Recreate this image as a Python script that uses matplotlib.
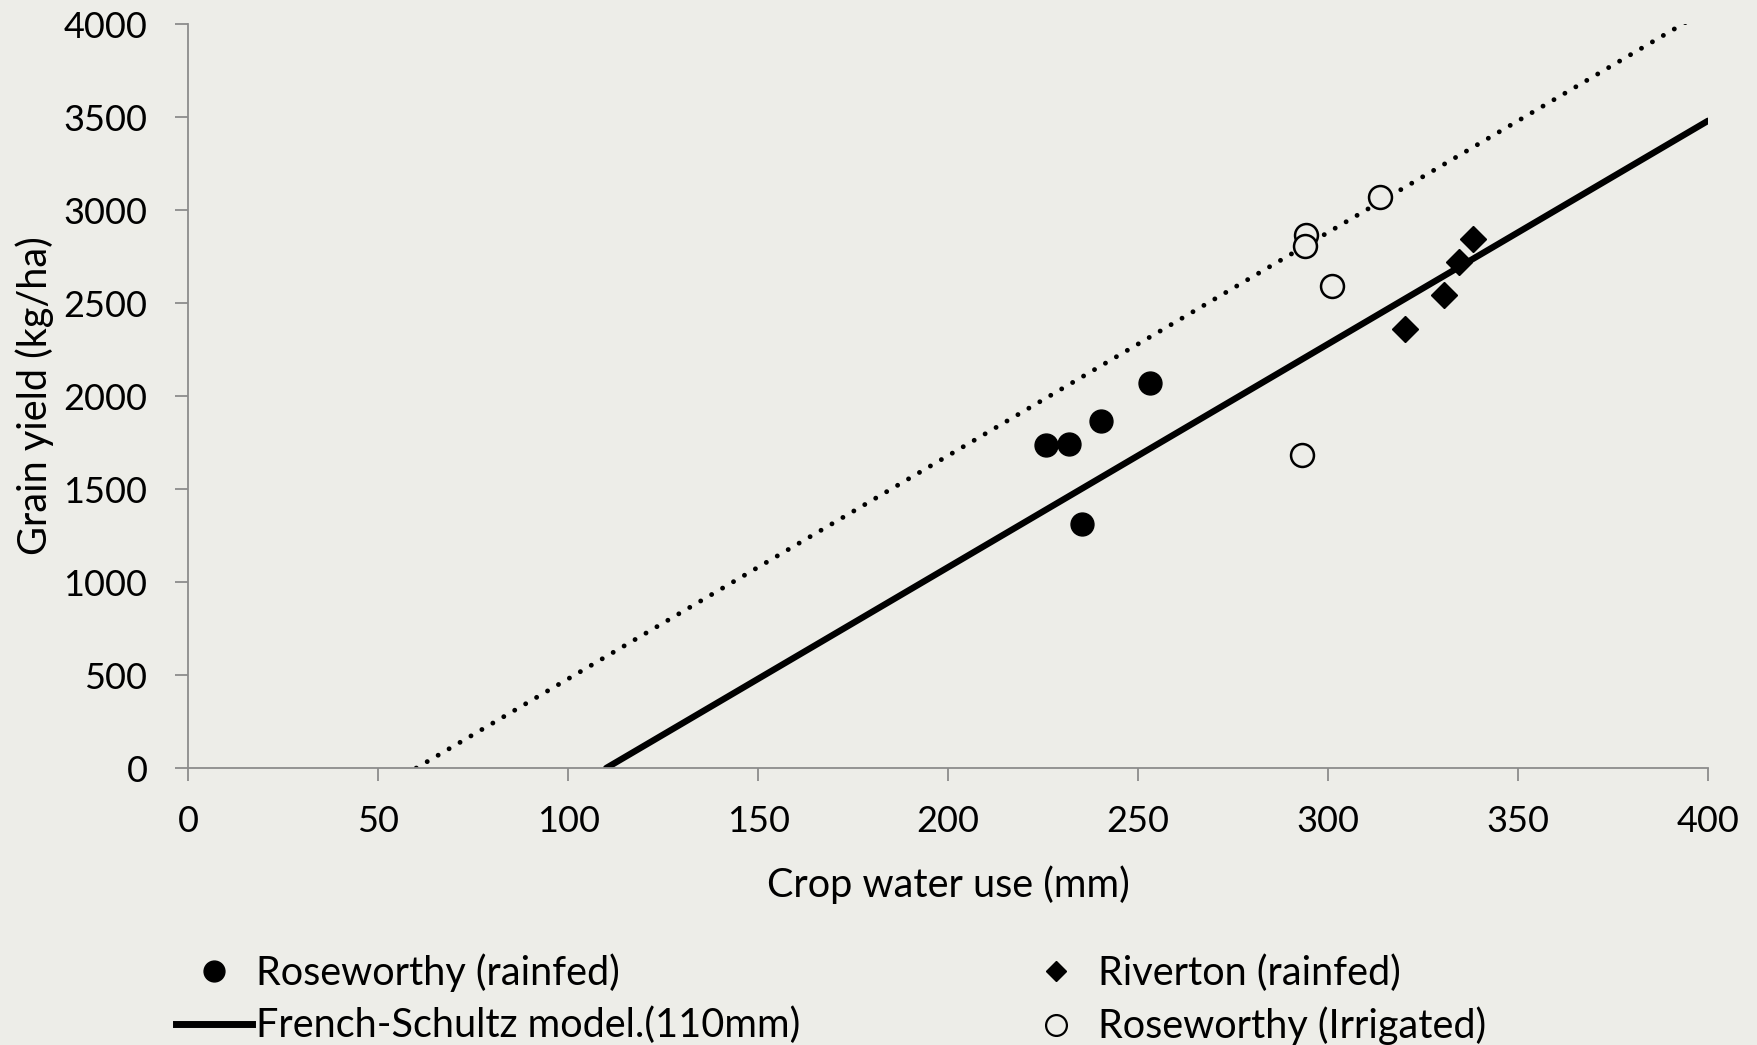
import numpy as np
import matplotlib
matplotlib.use('Agg')
import matplotlib.pyplot as plt
from matplotlib.lines import Line2D

# Roseworthy rainfed (filled circles)
rose_rain_x = [225.7, 231.9, 240.2, 253.2, 235.2]
rose_rain_y = [1735, 1741, 1867, 2072, 1313]

# Riverton rainfed (diamonds)
riv_x = [338.0, 334.4, 330.6, 320.2]
riv_y = [2843, 2723, 2542, 2361]

# Roseworthy irrigated (open circles)
rose_irr_x = [313.7, 294.2, 293.9, 301.0, 293.1]
rose_irr_y = [3072, 2867, 2807, 2590, 1681]

# French-Schultz model (110 mm evaporation), and upper boundary (60 mm)
model_x = [110, 400]
model_y = [0, 3480]
bound_x = [60, 395]
bound_y = [0, 4020]

bg = '#EDEDE8'
plt.rcParams['font.family'] = ['Lato', 'DejaVu Sans']
fs = 28.5

fig = plt.figure(figsize=(17.58, 10.45), dpi=100, facecolor=bg)
ax = fig.add_axes([0.1071, 0.265, 0.8645, 0.712])
ax.set_facecolor(bg)

ax.plot(bound_x, bound_y, color='black', lw=3.5, linestyle=(0, (0.01, 2.6)),
        dash_capstyle='round')
ax.plot(model_x, model_y, color='black', lw=4.6, solid_capstyle='round')

ax.plot(rose_rain_x, rose_rain_y, 'o', color='black', ms=16.5, ls='none')
ax.plot(riv_x, riv_y, 'D', color='black', ms=13, ls='none')
ax.plot(rose_irr_x, rose_irr_y, 'o', mfc=bg, mec='black', mew=1.8, ms=16.5, ls='none')

ax.set_xlim(0, 400)
ax.set_ylim(0, 4000)
ax.set_xticks(np.arange(0, 401, 50))
ax.set_yticks(np.arange(0, 4001, 500))
for s in ['top', 'right']:
    ax.spines[s].set_visible(False)
for s in ['left', 'bottom']:
    ax.spines[s].set_color('#8C8C8C')
    ax.spines[s].set_linewidth(1.3)
ax.tick_params(axis='both', direction='out', length=9.4, width=1.3, color='#8C8C8C',
               labelsize=26)
ax.tick_params(axis='y', pad=20)
ax.tick_params(axis='x', pad=17)

ax.set_xlabel('Crop water use (mm)', fontsize=fs, labelpad=20)
ax.set_ylabel('Grain yield (kg/ha)', fontsize=fs, labelpad=7)

handles = [
    Line2D([], [], marker='o', color='black', ls='none', ms=15),
    Line2D([], [], color='black', lw=5),
    Line2D([], [], marker='D', color='black', ls='none', ms=10.5),
    Line2D([], [], marker='o', mfc=bg, mec='black', mew=1.6, ls='none', ms=15),
]
labels = ['Roseworthy (rainfed)', 'French-Schultz model.(110mm)',
          'Riverton (rainfed)', 'Roseworthy (Irrigated)']
fig.legend(handles, labels, ncol=2, loc='upper left', bbox_to_anchor=(0.1, 0.088),
           frameon=False, fontsize=fs, handlelength=1.92, handletextpad=0.1,
           columnspacing=5.5, labelspacing=0.38, borderaxespad=0, borderpad=0)

fig.savefig('out.png', dpi=100, facecolor=bg)
